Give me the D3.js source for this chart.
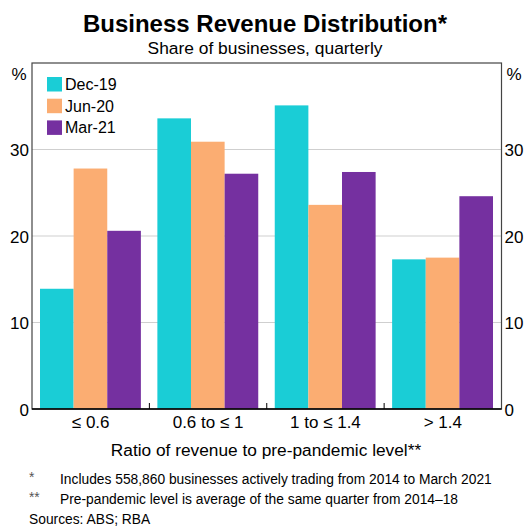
<!DOCTYPE html>
<html>
<head>
<meta charset="utf-8">
<script src="https://cdn.jsdelivr.net/npm/d3@7"></script>
<style>
  html, body { margin: 0; padding: 0; background: #fff; }
  svg { display: block; font-family: Arial, "Liberation Sans", sans-serif; }
</style>
</head>
<body>
<svg id="chart" width="530" height="526"></svg>
<script>
// Revenue ratio buckets and the share of businesses in each, by quarter
const categories = ["\u2264 0.6", "0.6 to \u2264 1", "1 to \u2264 1.4", "> 1.4"];
const seriesNames = ["Dec-19", "Jun-20", "Mar-21"];
const dec19 = [13.9, 33.6, 35.1, 17.3];
const jun20 = [27.8, 30.9, 23.6, 17.5];
const mar21 = [20.6, 27.2, 27.4, 24.6];
const yTicks = [0, 10, 20, 30];
const colors = ["#1ACDD6", "#FBAD72", "#7530A0"];

const seriesValues = [dec19, jun20, mar21];
const FONT = "Arial, 'Liberation Sans', sans-serif";

const svg = d3.select("#chart");
const m = { left: 32, right: 501.5, top: 63, bottom: 409 };

const x = d3.scaleBand().domain(categories).range([m.left, m.right]).paddingInner(0).paddingOuter(0);
const xs = d3.scaleBand().domain(seriesNames).range([8, x.bandwidth() - 8.5]).padding(0);
const y = d3.scaleLinear().domain([0, 40]).range([m.bottom, m.top]);

// gridlines
svg.append("g").selectAll("line").data(yTicks.filter(t => t > 0)).join("line")
  .attr("x1", m.left).attr("x2", m.right)
  .attr("y1", d => y(d)).attr("y2", d => y(d))
  .attr("stroke", "#cfcfcf").attr("stroke-width", 1);

// bars
const groups = svg.append("g").selectAll("g").data(categories).join("g")
  .attr("transform", d => `translate(${x(d)},0)`);
groups.selectAll("rect")
  .data((c, i) => seriesNames.map((s, j) => ({ s, v: seriesValues[j][i], j })))
  .join("rect")
  .attr("x", d => xs(d.s))
  .attr("width", xs.bandwidth())
  .attr("y", d => y(d.v))
  .attr("height", d => y(0) - y(d.v))
  .attr("fill", d => colors[d.j]);

// frame
svg.append("rect")
  .attr("x", m.left).attr("y", m.top)
  .attr("width", m.right - m.left).attr("height", m.bottom - m.top)
  .attr("fill", "none").attr("stroke", "#444").attr("stroke-width", 1.2);
svg.append("line")
  .attr("x1", m.left).attr("x2", m.right)
  .attr("y1", m.bottom).attr("y2", m.bottom)
  .attr("stroke", "#000").attr("stroke-width", 1.5);

// category separators on the baseline
svg.append("g").selectAll("line").data(categories.slice(1)).join("line")
  .attr("x1", d => x(d)).attr("x2", d => x(d))
  .attr("y1", m.bottom).attr("y2", m.bottom - 6)
  .attr("stroke", "#000").attr("stroke-width", 1);

// y axes (left and right)
const leftAxis = d3.axisLeft(y).tickValues(yTicks).tickSize(0).tickPadding(3);
const rightAxis = d3.axisRight(y).tickValues(yTicks).tickSize(0).tickPadding(3);
const gl = svg.append("g").attr("transform", `translate(${m.left},0)`).call(leftAxis);
const gr = svg.append("g").attr("transform", `translate(${m.right},0)`).call(rightAxis);
[gl, gr].forEach(g => {
  g.select(".domain").remove();
  g.selectAll("text").attr("font-size", 17).attr("fill", "#000")
    .attr("font-family", FONT).attr("dy", "0.36em");
});

// unit labels
svg.append("text").attr("x", 19).attr("y", 80).attr("text-anchor", "middle")
  .attr("font-size", 17).text("%");
svg.append("text").attr("x", 514).attr("y", 80).attr("text-anchor", "middle")
  .attr("font-size", 17).text("%");

// x axis labels
const xAxis = d3.axisBottom(x).tickSize(0).tickPadding(7);
const gx = svg.append("g").attr("transform", `translate(0,${m.bottom})`).call(xAxis);
gx.select(".domain").remove();
gx.selectAll("text").attr("font-size", 17).attr("fill", "#000").attr("font-family", FONT);

// titles
svg.append("text").attr("x", 265).attr("y", 32).attr("text-anchor", "middle")
  .attr("font-size", 24).attr("font-weight", "bold").text("Business Revenue Distribution*");
svg.append("text").attr("x", 265).attr("y", 54).attr("text-anchor", "middle")
  .attr("font-size", 17.4).text("Share of businesses, quarterly");
svg.append("text").attr("x", 266).attr("y", 456).attr("text-anchor", "middle")
  .attr("font-size", 17.3).text("Ratio of revenue to pre-pandemic level**");

// legend
const legend = svg.append("g").selectAll("g").data(seriesNames).join("g")
  .attr("transform", (d, i) => `translate(47,${77 + i * 21.7})`);
legend.append("rect").attr("width", 15).attr("height", 14.5).attr("fill", (d, i) => colors[i]);
legend.append("text").attr("x", 18).attr("y", 13).attr("font-size", 16).text(d => d);

// notes
const notes = svg.append("g").attr("font-size", 13.8).attr("fill", "#000");
notes.append("text").attr("x", 29).attr("y", 482).attr("fill", "#555").text("*");
notes.append("text").attr("x", 60).attr("y", 484).text("Includes 558,860 businesses actively trading from 2014 to March 2021");
notes.append("text").attr("x", 29).attr("y", 502).attr("fill", "#555").text("**");
notes.append("text").attr("x", 60).attr("y", 504).text("Pre-pandemic level is average of the same quarter from 2014\u201318");
notes.append("text").attr("x", 29).attr("y", 524).text("Sources: ABS; RBA");
</script>
</body>
</html>
